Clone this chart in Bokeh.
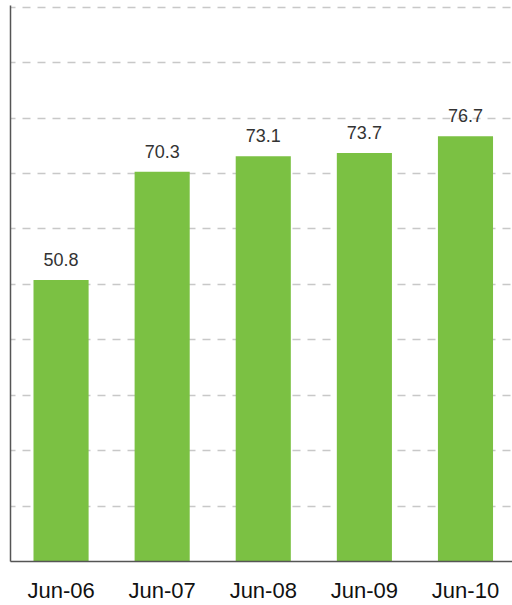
from bokeh.plotting import figure
from bokeh.models import ColumnDataSource, SingleIntervalTicker, FixedTicker
from bokeh.core.properties import value
from bokeh.embed import file_html
from bokeh.resources import INLINE

categories = ["Jun-06", "Jun-07", "Jun-08", "Jun-09", "Jun-10"]
values = [50.8, 70.3, 73.1, 73.7, 76.7]

xs = list(range(len(categories)))
src = ColumnDataSource(dict(x=xs, top=values, label=[f"{v:.1f}" for v in values]))

p = figure(width=512, height=605, output_backend="svg", toolbar_location=None,
           x_range=(-0.5, 4.465), y_range=(0, 100.3),
           min_border_left=10, min_border_right=0, min_border_top=5, min_border_bottom=42)
p.outline_line_color = None
p.background_fill_color = "white"
p.border_fill_color = "white"

p.vbar(x="x", top="top", width=0.545, bottom=0, source=src,
       fill_color="#7BC143", line_color=None)
p.text(x="x", y="top", text="label", source=src, text_align="center",
       text_baseline="bottom", y_offset=-14, text_font=value("Liberation Sans"),
       text_font_size="18px", text_color="#333333")

p.xgrid.grid_line_color = None
p.ygrid.ticker = SingleIntervalTicker(interval=10)
p.ygrid.grid_line_color = "#c8c8c8"
p.ygrid.grid_line_dash = "8 7"
p.ygrid.grid_line_dash_offset = 3
p.ygrid.grid_line_width = 1.3

p.yaxis.ticker = FixedTicker(ticks=[])
p.yaxis.major_tick_out = 0
p.yaxis.major_tick_in = 0
p.yaxis.minor_tick_out = 0
p.yaxis.minor_tick_in = 0
p.yaxis.major_label_standoff = 0
p.yaxis.axis_line_color = "#555555"
p.yaxis.axis_line_width = 1.5

p.xaxis.ticker = FixedTicker(ticks=xs)
p.xaxis.major_label_overrides = {i: c for i, c in enumerate(categories)}
p.xaxis.major_tick_out = 0
p.xaxis.major_tick_in = 0
p.xaxis.minor_tick_out = 0
p.xaxis.minor_tick_in = 0
p.xaxis.major_label_standoff = 16
p.xaxis.major_label_text_font = "Liberation Sans"
p.xaxis.major_label_text_font_size = "22px"
p.xaxis.major_label_text_color = "#111111"
p.xaxis.axis_line_color = "#555555"
p.xaxis.axis_line_width = 1.5

open("out.html", "w").write(file_html(p, INLINE))
